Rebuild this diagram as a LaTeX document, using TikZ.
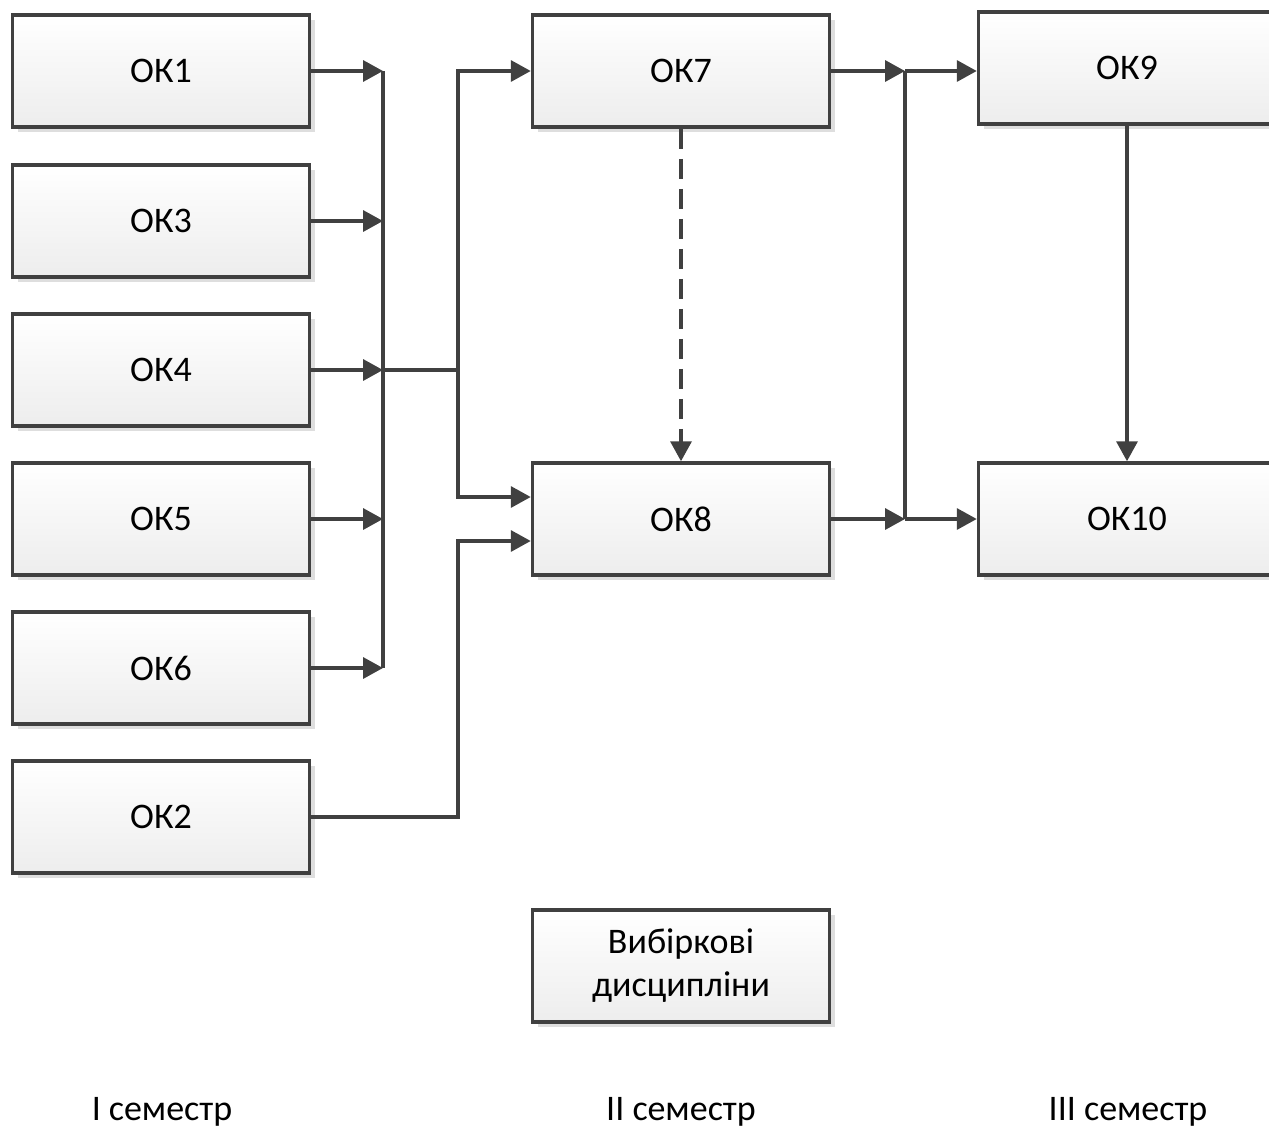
\documentclass[tikz,border=0pt]{standalone}
\usepackage{fontspec}
\setmainfont{Carlito}
\usetikzlibrary{arrows.meta}
\usetikzlibrary{shadows}

\definecolor{linecol}{HTML}{404040}
\definecolor{boxbot}{HTML}{EDEDED}

\tikzset{
  okbox/.style={draw=linecol, line width=3.5pt, top color=white, bottom color=boxbot,
    minimum width=297pt, minimum height=112pt, inner sep=0pt, align=center,
    general shadow={fill=black!13, shadow xshift=5pt, shadow yshift=-5pt},
    font=\fontsize{36}{43}\selectfont},
  link/.style={draw=linecol, line width=3.5pt, -{Triangle[length=20pt,width=21pt]}},
  wire/.style={draw=linecol, line width=3.5pt},
  semlabel/.style={font=\fontsize{36}{43}\selectfont}
}

\begin{document}
\begin{tikzpicture}[x=1pt,y=-1pt]
\useasboundingbox (0,0) rectangle (1269,1135);

\node[okbox] (ok1) at (161,71) {ОК1};
\node[okbox] (ok3) at (161,221) {ОК3};
\node[okbox] (ok4) at (161,370) {ОК4};
\node[okbox] (ok5) at (161,519) {ОК5};
\node[okbox] (ok6) at (161,668) {ОК6};
\node[okbox] (ok2) at (161,817) {ОК2};

\node[okbox] (ok7) at (681,71) {ОК7};
\node[okbox] (ok8) at (681,519) {ОК8};
\node[okbox] (vyb) at (681,966) {Вибіркові\\дисципліни};

\node[okbox] (ok9) at (1127,68) {ОК9};
\node[okbox] (ok10) at (1127,519) {ОК10};

\node[semlabel] (sem1) at (162,1112) {I семестр};
\node[semlabel] (sem2) at (681,1112) {II семестр};
\node[semlabel] (sem3) at (1128,1112) {III семестр};

\coordinate (bus1) at (383,71);
\coordinate (bus3) at (383,221);
\coordinate (bus4) at (383,370);
\coordinate (bus5) at (383,519);
\coordinate (bus6) at (383,668);
\coordinate (fork) at (458,370);
\coordinate (right7) at (905,71);
\coordinate (right8) at (905,519);

\draw[wire] (bus1) -- (bus6);
\draw[link] (ok1.east) -- (bus1);
\draw[link] (ok3.east) -- (bus3);
\draw[link] (ok4.east) -- (bus4);
\draw[link] (ok5.east) -- (bus5);
\draw[link] (ok6.east) -- (bus6);

\draw[wire] (bus4) -- (fork);
\draw[link] (fork) |- (ok7.west);
\draw[link] (fork) |- ([yshift=22pt]ok8.west);
\draw[link] (ok2.east) -| ([yshift=-22pt]ok8.west -| fork) -- ([yshift=-22pt]ok8.west);

\draw[link, dash pattern=on 20pt off 10pt] (ok7.south) -- (ok8.north);

\draw[link] (ok7.east) -- (right7);
\draw[link] (ok8.east) -- (right8);
\draw[wire] (right7) -- (right8);
\draw[link] (right7) -- (right7 -| ok9.west);
\draw[link] (right8) -- (ok10.west);
\draw[link] (ok9.south) -- (ok10.north);
\end{tikzpicture}
\end{document}
